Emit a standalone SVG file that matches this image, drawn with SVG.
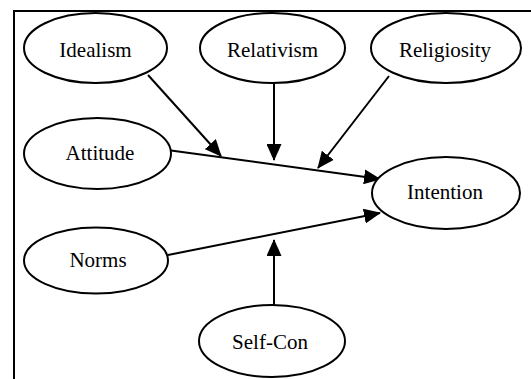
<svg xmlns="http://www.w3.org/2000/svg" width="531" height="379" viewBox="0 0 531 379">
<defs>
<style>
.node ellipse{fill:#fff;stroke:#000;stroke-width:2}
.node text{font-family:"Liberation Serif","Times New Roman",serif;font-size:21px;fill:#000;text-anchor:middle}
.edge{stroke:#000;stroke-width:2;fill:none;marker-end:url(#arr)}
.frame{stroke:#000;stroke-width:2;fill:none}
</style>
<marker id="arr" viewBox="0 0 17 15" refX="16" refY="7.5" markerWidth="17" markerHeight="15" markerUnits="userSpaceOnUse" orient="auto">
<path d="M0,0 L17,7.5 L0,15 z" fill="#000"/>
</marker>
</defs>
<rect width="531" height="379" fill="#fff"/>
<path class="frame" d="M14,379 V11 H531"/>
<g id="connectors">
<line class="edge" x1="148" y1="75" x2="221" y2="156"/>
<line class="edge" x1="274" y1="84" x2="274" y2="160"/>
<line class="edge" x1="389" y1="76" x2="318" y2="168"/>
<line class="edge" x1="171" y1="150.5" x2="380" y2="179"/>
<line class="edge" x1="168" y1="255" x2="380" y2="213"/>
<line class="edge" x1="274" y1="305" x2="274" y2="240"/>
</g>
<g id="idealism" class="node"><ellipse cx="95.5" cy="48" rx="71.5" ry="35"/><text x="95.5" y="57">Idealism</text></g>
<g id="relativism" class="node"><ellipse cx="272.5" cy="48" rx="72.5" ry="35"/><text x="272.5" y="57">Relativism</text></g>
<g id="religiosity" class="node"><ellipse cx="446" cy="48" rx="75" ry="35"/><text x="445" y="57">Religiosity</text></g>
<g id="attitude" class="node"><ellipse cx="97.5" cy="153.5" rx="73.5" ry="35.5"/><text x="100" y="160">Attitude</text></g>
<g id="intention" class="node"><ellipse cx="446" cy="193" rx="74" ry="36"/><text x="445" y="199">Intention</text></g>
<g id="norms" class="node"><ellipse cx="96" cy="260.5" rx="72" ry="33"/><text x="98" y="267">Norms</text></g>
<g id="selfcon" class="node"><ellipse cx="272" cy="341" rx="73" ry="36"/><text x="270" y="349">Self-Con</text></g>
</svg>
